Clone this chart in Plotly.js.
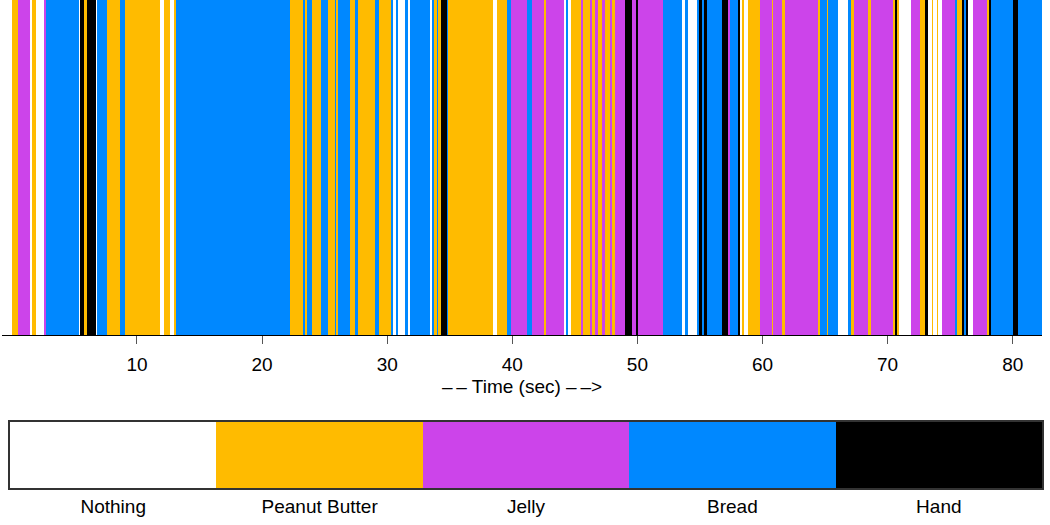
<!DOCTYPE html>
<html>
<head>
<meta charset="utf-8">
<script src="https://cdn.plot.ly/plotly-3.0.1.min.js"></script>
<style>
  html, body { margin: 0; padding: 0; background: #fff; }
  #timeline { width: 1050px; height: 525px; }
</style>
</head>
<body>
<div id="timeline"></div>
<script>
// segment start times (sec) and what is being touched from that moment on
var segStart = [0, 0.01, 0.49, 1.45, 1.61, 1.93, 2.57, 2.73, 5.36, 5.44, 5.76, 6.00, 6.72, 6.80, 7.60, 8.64, 9.04,
  11.84, 12.17, 12.65, 12.96, 13.12, 22.23, 23.27, 23.43, 23.60, 24.00, 24.71, 25.27, 25.83, 25.91, 26.07,
  27.03, 27.42, 27.66, 29.02, 29.34, 30.30, 30.46, 30.70, 30.86, 31.42, 31.66, 31.82, 33.42, 33.58, 33.74,
  33.98, 34.06, 34.30, 34.78, 34.86, 38.46, 38.78, 39.58, 39.90, 41.18, 41.58, 42.53, 42.69, 44.13, 44.29,
  44.45, 44.69, 45.49, 45.65, 46.21, 46.37, 46.61, 46.85, 47.17, 47.41, 47.81, 47.97, 48.21, 49.01, 49.57,
  49.89, 50.05, 52.05, 53.57, 53.81, 54.05, 54.77, 54.93, 55.17, 55.33, 55.56, 56.76, 57.24, 57.40, 58.04,
  58.20, 58.36, 58.52, 58.84, 59.80, 60.76, 60.84, 61.56, 61.80, 64.44, 64.60, 65.16, 65.24, 66.04, 66.84,
  67.08, 67.32, 68.43, 68.67, 70.43, 70.59, 70.75, 70.91, 71.87, 72.59, 72.99, 73.23, 73.55, 73.63, 73.95,
  74.03, 74.35, 75.39, 75.55, 75.95, 76.11, 76.27, 76.43, 76.83, 77.95, 78.11, 78.27, 80.03, 80.43];

var segCat = ['N', 'P', 'J', 'N', 'P', 'N', 'J', 'B', 'N', 'H', 'P', 'H', 'N', 'B', 'P', 'B', 'P',
  'N', 'P', 'N', 'P', 'B', 'P', 'B', 'P', 'B', 'P', 'B', 'P', 'B', 'P', 'B',
  'P', 'B', 'P', 'B', 'P', 'B', 'N', 'B', 'N', 'B', 'N', 'B', 'N', 'B', 'P',
  'B', 'P', 'H', 'B', 'P', 'N', 'P', 'B', 'J', 'B', 'J', 'P', 'J', 'N', 'B',
  'N', 'P', 'J', 'P', 'J', 'P', 'J', 'P', 'J', 'P', 'J', 'P', 'J', 'H', 'J',
  'H', 'J', 'B', 'N', 'B', 'N', 'B', 'H', 'B', 'H', 'B', 'H', 'J', 'B', 'H',
  'N', 'P', 'N', 'P', 'J', 'P', 'J', 'P', 'J', 'P', 'B', 'P', 'B', 'N', 'B',
  'P', 'J', 'P', 'J', 'P', 'H', 'P', 'N', 'J', 'P', 'H', 'N', 'P', 'N', 'P',
  'N', 'J', 'B', 'P', 'H', 'B', 'H', 'N', 'J', 'P', 'H', 'B', 'H', 'B'];

var endTime = 82.4;

var catCodes = ['N', 'P', 'J', 'B', 'H'];
var catNames = ['Nothing', 'Peanut Butter', 'Jelly', 'Bread', 'Hand'];
var catColors = ['#FFFFFF', '#FFBB00', '#CC44EA', '#0088FF', '#000000'];
var timeTicks = [10, 20, 30, 40, 50, 60, 70, 80];

var data = [];

catCodes.forEach(function (code, k) {
  var base = [], len = [], ys = [];
  for (var i = 0; i < segStart.length; i++) {
    if (segCat[i] !== code) continue;
    var stop = i + 1 < segStart.length ? segStart[i + 1] : endTime;
    base.push(segStart[i]);
    len.push(stop - segStart[i]);
    ys.push(0);
  }
  data.push({
    type: 'bar',
    orientation: 'h',
    y: ys,
    x: len,
    base: base,
    width: 1,
    name: catNames[k],
    marker: {color: catColors[k], line: {width: 0}},
    hoverinfo: 'skip',
    showlegend: false
  });
});

// colour key under the timeline
data.push({
  type: 'bar',
  x: [0, 1, 2, 3, 4],
  y: [1, 1, 1, 1, 1],
  width: 1,
  xaxis: 'x2',
  yaxis: 'y2',
  marker: {color: catColors, line: {width: 0}},
  hoverinfo: 'skip',
  showlegend: false
});

var font = {family: 'Liberation Sans, Arial, sans-serif', size: 19, color: '#000'};

var layout = {
  width: 1050,
  height: 525,
  margin: {l: 2, r: 8, t: 0, b: 37},
  paper_bgcolor: '#fff',
  plot_bgcolor: '#fff',
  font: font,
  barmode: 'overlay',
  bargap: 0,
  xaxis: {
    range: [-0.79, 82.34],
    anchor: 'y',
    tickvals: timeTicks,
    ticks: 'outside',
    ticklen: 8,
    tickwidth: 1,
    tickcolor: '#555',
    ticklabelstandoff: 4,
    showline: true,
    linecolor: '#000',
    linewidth: 1,
    showgrid: false,
    zeroline: false,
    tickfont: font,
    title: {text: '–\u2009– Time (sec) –\u2009–>', font: font, standoff: 5}
  },
  yaxis: {
    domain: [0.3135, 1],
    range: [-0.5, 0.5],
    showticklabels: false,
    showgrid: false,
    zeroline: false,
    ticks: ''
  },
  xaxis2: {
    domain: [0.0077, 1],
    anchor: 'y2',
    range: [-0.5, 4.5],
    tickvals: [0, 1, 2, 3, 4],
    ticktext: catNames,
    ticks: '',
    ticklabelstandoff: 0,
    showline: true,
    mirror: true,
    linecolor: '#333',
    linewidth: 2,
    showgrid: false,
    zeroline: false,
    tickfont: font
  },
  yaxis2: {
    domain: [0, 0.1352],
    anchor: 'x2',
    range: [0, 1],
    showticklabels: false,
    showline: true,
    mirror: true,
    linecolor: '#333',
    linewidth: 2,
    showgrid: false,
    zeroline: false,
    ticks: ''
  }
};

Plotly.newPlot('timeline', data, layout, {displayModeBar: false, staticPlot: true});
</script>
</body>
</html>
